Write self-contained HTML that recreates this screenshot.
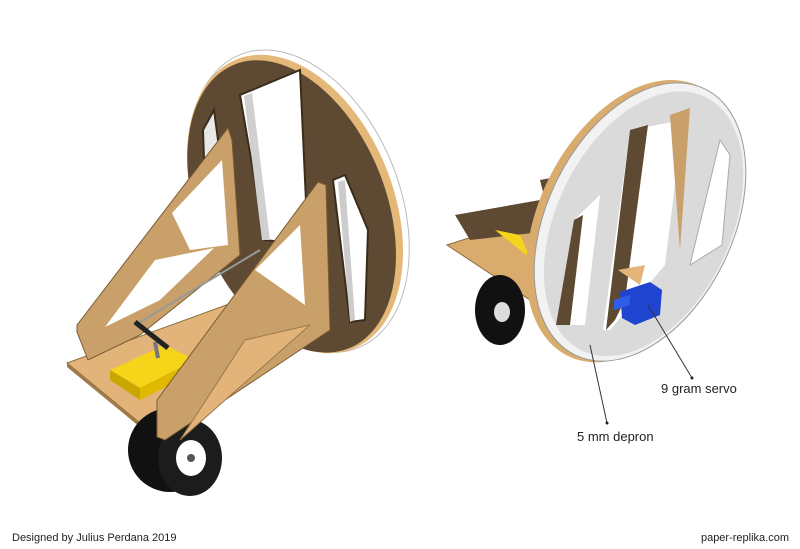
<!DOCTYPE html>
<html><head><meta charset="utf-8"><style>
html,body{margin:0;padding:0;background:#fff;width:800px;height:549px;overflow:hidden}
svg{display:block}
text{font-family:"Liberation Sans",Arial,sans-serif;fill:#222}
</style></head><body>
<svg width="800" height="549" viewBox="0 0 800 549" xmlns="http://www.w3.org/2000/svg">
<!-- LEFT MODEL -->
<g transform="rotate(-22 295 204)">
<ellipse cx="300" cy="203" rx="100" ry="158" fill="#fff" stroke="#bbb" stroke-width="1"/>
<ellipse cx="295" cy="204" rx="98" ry="156" fill="#e3b878"/>
<ellipse cx="291" cy="205" rx="94" ry="153" fill="#5e4a32"/>
</g>
<polygon points="203,130 214,110 222,170 232,245 215,240 205,190" fill="#e8e8e8" stroke="#3a2c1c" stroke-width="2"/>
<polygon points="240,95 300,70 308,245 265,240" fill="#fff" stroke="#3a2c1c" stroke-width="2"/>
<polygon points="244,96 252,93 270,240 262,240" fill="#d0d0d0"/>
<polygon points="333,180 345,175 368,230 365,320 350,322" fill="#fff" stroke="#3a2c1c" stroke-width="2"/>
<polygon points="338,182 345,180 355,320 350,322" fill="#ccc"/>
<polygon points="282,252 300,258 298,270 280,264" fill="#2a5ad8"/>
<polygon points="67,363 157,437 330,330 240,300" fill="#e2b47a" stroke="#8a6a40" stroke-width="1"/>
<polygon points="67,363 157,437 157,441 67,367" fill="#a07a48"/>
<ellipse cx="170" cy="450" rx="42" ry="42" fill="#111"/>
<ellipse cx="190" cy="458" rx="32" ry="38" fill="#1c1c1c"/>
<ellipse cx="191" cy="458" rx="15" ry="18" fill="#fff"/>
<ellipse cx="191" cy="458" rx="4" ry="4" fill="#555"/>
<polygon points="77,325 228,128 232,140 240,255 140,335 88,360 77,332" fill="#c9a06a" stroke="#7a5a30" stroke-width="1"/>
<polygon points="172,213 222,160 228,245 190,250" fill="#fff"/>
<polygon points="105,327 155,260 214,248 160,300" fill="#fff"/>
<line x1="140" y1="322" x2="260" y2="250" stroke="#999" stroke-width="2"/>
<polygon points="110,370 165,345 195,360 140,388" fill="#f5d419"/>
<polygon points="110,370 140,388 140,400 110,380" fill="#c9a600"/>
<polygon points="140,388 195,360 195,372 140,400" fill="#e0b800"/>
<line x1="155" y1="342" x2="158" y2="358" stroke="#777" stroke-width="4"/>
<line x1="135" y1="322" x2="168" y2="348" stroke="#222" stroke-width="5"/>
<polygon points="157,400 318,182 326,185 330,330 165,440 157,437" fill="#c9a06a" stroke="#7a5a30" stroke-width="1"/>
<polygon points="255,270 300,225 305,305" fill="#fff"/>
<polygon points="180,440 245,340 310,325" fill="#e2b47a" stroke="#9a7a4a" stroke-width="1"/>

<!-- RIGHT MODEL -->
<polygon points="447,245 540,215 600,225 600,310 530,300" fill="#d9ac6e" stroke="#8a6a40" stroke-width="1"/>
<polygon points="455,215 540,200 560,230 470,240" fill="#5e4a32"/>
<polygon points="540,180 620,165 625,200 545,200" fill="#5e4a32"/>
<polygon points="495,230 520,235 530,258" fill="#f5d419"/>
<ellipse cx="500" cy="310" rx="25" ry="35" fill="#111"/>
<ellipse cx="502" cy="312" rx="8" ry="10" fill="#ddd"/>
<g transform="rotate(26 640 222)">
<ellipse cx="634" cy="224" rx="95" ry="150" fill="#d9ac6e"/>
<ellipse cx="640" cy="222" rx="93" ry="148" fill="#f2f2f2" stroke="#999" stroke-width="1"/>
<ellipse cx="644" cy="222" rx="87" ry="141" fill="#dadada"/>
</g>
<polygon points="574,220 600,195 585,325 556,325" fill="#fff"/>
<polygon points="574,220 583,215 570,325 556,325" fill="#5e4a32"/>
<polygon points="630,130 683,120 665,265 610,330 603,330" fill="#fff"/>
<polygon points="630,130 648,125 625,300 615,320 606,330" fill="#5e4a32"/>
<polygon points="670,115 690,108 680,250" fill="#c9a06a"/>
<polygon points="720,140 730,155 722,245 690,265" fill="#fff" stroke="#aaa" stroke-width="1"/>
<polygon points="618,270 645,265 640,285" fill="#e2b47a"/>
<polygon points="620,292 650,282 662,290 660,315 635,325 622,318" fill="#1f44d0"/>
<polygon points="614,300 630,295 630,305 614,310" fill="#2f5ce8"/>
<line x1="648" y1="305" x2="692" y2="378" stroke="#333" stroke-width="1"/>
<circle cx="692" cy="378" r="1.5" fill="#222"/>
<line x1="590" y1="345" x2="607" y2="423" stroke="#333" stroke-width="1"/>
<circle cx="607" cy="423" r="1.5" fill="#222"/>
<text x="661" y="393" font-size="13">9 gram servo</text>
<text x="577" y="441" font-size="13">5 mm depron</text>
<text x="12" y="541" font-size="11">Designed by Julius Perdana 2019</text>
<text x="789" y="541" font-size="11" text-anchor="end">paper-replika.com</text>
</svg>
</body></html>
